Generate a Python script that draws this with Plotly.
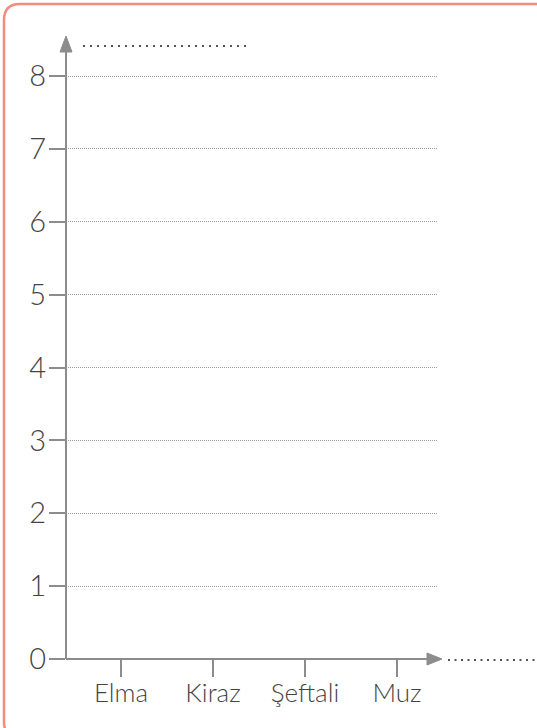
import plotly.graph_objects as go

# ---- data ----
categories = ["Elma", "Kiraz", "Şeftali", "Muz"]
values = [0, 0, 0, 0]          # empty template chart: no bars filled in
y_ticks = [0, 1, 2, 3, 4, 5, 6, 7, 8]

# ---- geometry helpers (pixels of the 537x728 page) ----
W, H = 537, 728
def px(x):
    return x / W
def py(y):
    return 1 - y / H

AXIS_COL = "#8c8c8c"
TEXT_COL = "#444444"
CARD_COL = "#f28c7c"
FONT = "Lato"

X0_PX, X_STEP = 121, 92.0
Y0_PX, Y_STEP = 659, 72.875
x_left_px, x_right_px = 66, 437
y_top_px = 45

x_range = [(x_left_px - X0_PX) / X_STEP, (x_right_px - X0_PX) / X_STEP]
y_range = [0, (Y0_PX - y_top_px) / Y_STEP]

fig = go.Figure()
fig.add_trace(go.Bar(x=list(range(len(categories))), y=values,
                     marker=dict(color="rgba(0,0,0,0)", line=dict(width=0)),
                     hoverinfo="skip", showlegend=False))

# card outline: only the top and left edges are on the page
r = 16
L, T, B = 4, 4, 738
card_line = dict(color=CARD_COL, width=2.5)
shapes = [
    dict(type="line", xref="paper", yref="paper", layer="below",
         x0=px(L + r), x1=1.0, y0=py(T), y1=py(T), line=card_line),
    dict(type="line", xref="paper", yref="paper", layer="below",
         x0=px(L), x1=px(L), y0=py(T + r), y1=py(B - r), line=card_line),
    dict(type="path", xref="paper", yref="paper", layer="below",
         path=f"M {px(L)},{py(T+r)} Q {px(L)},{py(T)} {px(L+r)},{py(T)}", line=card_line),
    dict(type="path", xref="paper", yref="paper", layer="below",
         path=f"M {px(L)},{py(B-r)} Q {px(L)},{py(B)} {px(L+r)},{py(B)}", line=card_line),
]

# arrow heads
shapes.append(dict(type="path", xref="paper", yref="paper", layer="above",
                   path=f"M {px(66)},{py(36)} L {px(60)},{py(52)} L {px(72)},{py(52)} Z",
                   fillcolor=AXIS_COL, line=dict(color=AXIS_COL, width=1)))
shapes.append(dict(type="path", xref="paper", yref="paper", layer="above",
                   path=f"M {px(442)},{py(659)} L {px(427)},{py(653)} L {px(427)},{py(665)} Z",
                   fillcolor=AXIS_COL, line=dict(color=AXIS_COL, width=1)))
# dotted writing lines (title / axis caption)
shapes.append(dict(type="line", xref="paper", yref="paper", layer="above",
                   x0=px(83), x1=px(247), y0=py(46), y1=py(46),
                   line=dict(color="#555555", width=2, dash="2px,5px")))
shapes.append(dict(type="line", xref="paper", yref="paper", layer="above",
                   x0=px(448), x1=px(536), y0=py(660), y1=py(660),
                   line=dict(color="#555555", width=2, dash="2px,4.5px")))

fig.update_layout(
    width=W, height=H, autosize=False,
    margin=dict(l=0, r=0, t=0, b=0, pad=0, autoexpand=False),
    paper_bgcolor="white",
    plot_bgcolor="rgba(0,0,0,0)",
    showlegend=False,
    shapes=shapes,
    xaxis=dict(domain=[px(x_left_px), px(x_right_px)], range=x_range,
               anchor="free", position=py(Y0_PX), automargin=False,
               showline=True, linecolor=AXIS_COL, linewidth=2,
               ticks="outside", ticklen=17, tickwidth=2, tickcolor=AXIS_COL,
               tickvals=list(range(len(categories))), ticktext=categories,
               ticklabelstandoff=-6,
               tickfont=dict(family=FONT, size=26, color=TEXT_COL, weight=300),
               showgrid=False, zeroline=False, fixedrange=True),
    yaxis=dict(domain=[py(Y0_PX), py(y_top_px)], range=y_range,
               anchor="free", position=px(x_left_px), automargin=False,
               showline=True, linecolor=AXIS_COL, linewidth=2,
               ticks="outside", ticklen=16, tickwidth=2, tickcolor=AXIS_COL,
               tickvals=y_ticks, ticktext=[str(v) for v in y_ticks],
               ticklabelstandoff=-3,
               tickfont=dict(family=FONT, size=29, color=TEXT_COL, weight=300),
               showgrid=True, gridcolor="#9a9a9a", gridwidth=1, griddash="1px,1px",
               zeroline=False, fixedrange=True),
)

fig.write_html(
    "out.html",
    config={"responsive": False, "displayModeBar": False},
    post_script="document.body.style.margin='0';document.body.style.overflow='hidden';",
)
